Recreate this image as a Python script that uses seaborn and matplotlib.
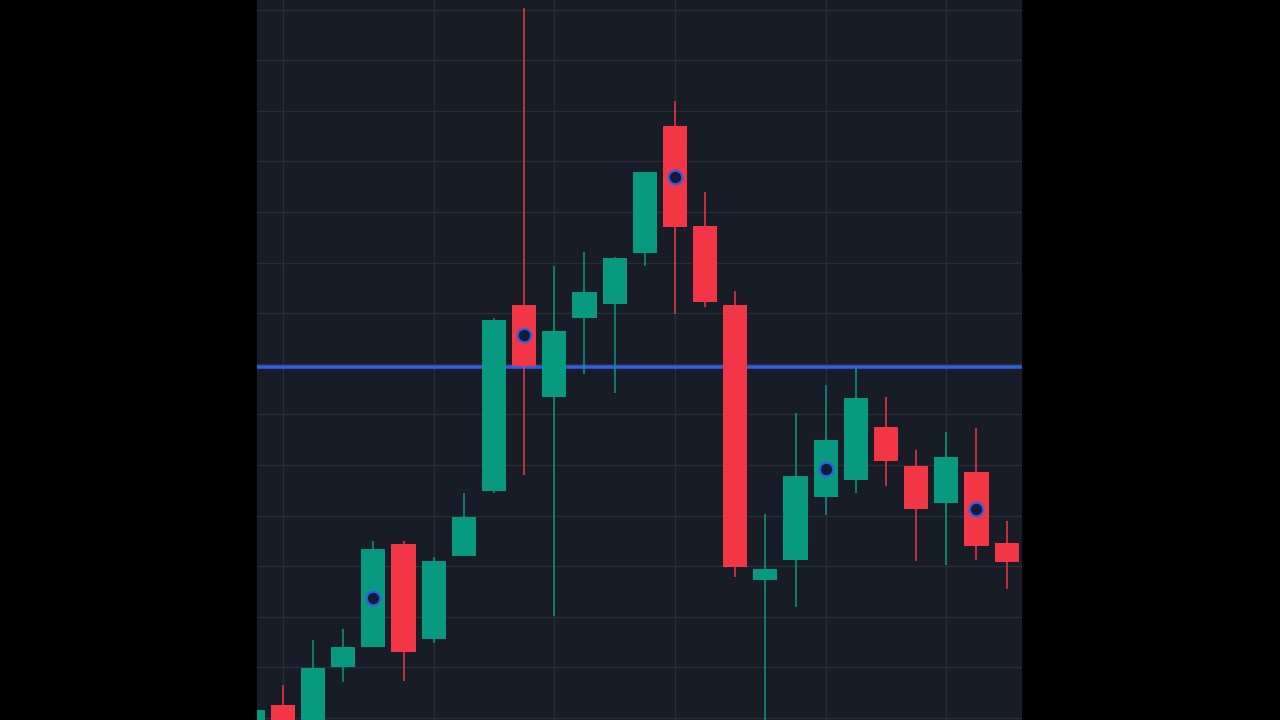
import numpy as np
import pandas as pd
import matplotlib
matplotlib.use("Agg")
import matplotlib.pyplot as plt
import seaborn as sns

# ---- data ----
opens  = [97.6, 102.6, 98.6, 110.1, 114.0, 134.4, 115.6, 132.0, 144.9, 181.6,
          163.4, 179.1, 181.8, 191.9, 217.0, 197.2, 181.6, 127.3, 131.2, 143.7,
          147.0, 157.5, 149.8, 142.5, 148.6, 134.6]
highs  = [101.6, 106.5, 115.4, 117.6, 135.0, 135.0, 131.8, 144.5, 179.1, 240.3,
          189.3, 192.1, 191.1, 208.0, 221.9, 204.0, 184.4, 140.3, 160.3, 165.8,
          169.2, 163.4, 153.0, 156.5, 157.3, 138.9]
lows   = [96.0, 97.0, 98.0, 107.1, 114.0, 107.3, 114.8, 132.0, 144.5, 148.0,
          120.2, 168.0, 164.2, 189.3, 179.8, 181.2, 127.9, 98.0, 121.9, 140.1,
          144.5, 145.8, 131.0, 130.2, 131.2, 125.5]
closes = [101.6, 98.6, 109.9, 114.0, 133.4, 113.0, 131.0, 139.7, 178.7, 169.6,
          176.5, 184.2, 190.9, 207.9, 197.0, 182.2, 129.8, 129.4, 147.8, 154.9,
          163.2, 150.8, 141.3, 151.6, 134.0, 130.8]
marker_idx = [4, 9, 14, 19, 24]
vgrid_idx = [1, 6, 10, 14, 19, 23]
level = 169.3
price_ticks = list(range(100, 250, 10))

GREEN = "#089981"
RED = "#f23645"
BG = "#181c27"
GRID = "#282c37"
BLUE = "#2f5fe0"

df = pd.DataFrame({"open": opens, "high": highs, "low": lows, "close": closes})
df["i"] = np.arange(len(df))
df["up"] = df["close"] >= df["open"]
df["color"] = np.where(df["up"], GREEN, RED)
df["mid"] = (df["open"] + df["close"]) / 2

sns.set_theme(style="dark")
fig = plt.figure(figsize=(12.8, 7.2), dpi=100, facecolor="black")
ax = fig.add_axes([257 / 1280, 0, 765 / 1280, 1])
ax.set_facecolor(BG)

# grid
for t in price_ticks:
    ax.axhline(t, color=GRID, lw=1, zorder=0)
for v in vgrid_idx:
    ax.axvline(v, color=GRID, lw=1, zorder=0)

# wicks and bodies
ax.vlines(df["i"], df["low"], df["high"], colors=df["color"], lw=1.1, zorder=2)
ax.bar(df["i"], (df["close"] - df["open"]).abs(), bottom=df[["open", "close"]].min(axis=1),
       width=0.8, color=df["color"], linewidth=0, zorder=3)

# horizontal level
ax.axhline(level, color=BLUE, lw=2.6, zorder=1)

# markers
mk = df.loc[marker_idx]
sns.scatterplot(x=mk["i"], y=mk["mid"], ax=ax, s=95, color="#131a3a",
                edgecolor="#2f5fe0", linewidth=1.6, zorder=5, legend=False)

ax.set_xlim(0.14, 25.51)
ax.set_ylim(99.6, 241.9)
ax.set_xticks([])
ax.set_yticks([])
ax.set_xlabel("")
ax.set_ylabel("")
for s in ax.spines.values():
    s.set_visible(False)

fig.savefig("out.png", dpi=100, facecolor="black")
